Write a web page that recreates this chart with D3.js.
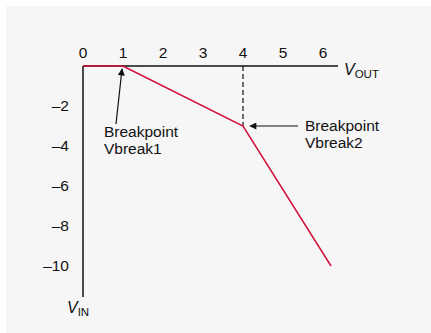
<!DOCTYPE html>
<html>
<head>
<meta charset="utf-8">
<script src="https://cdn.jsdelivr.net/npm/d3@7"></script>
<style>
  body { margin: 0; background: #fff; }
  svg { display: block; font-family: "Liberation Sans", Arial, sans-serif; }
</style>
</head>
<body>
<div id="chart"></div>
<script>
// transfer curve data
const vout = [0, 1, 4, 6.2];
const vin = [0, 0, -3, -10];
const xTicks = [0, 1, 2, 3, 4, 5, 6];
const yTicks = [-2, -4, -6, -8, -10];
const breakpoints = [
  {x: 1, y: 0, lines: ["Breakpoint", "Vbreak1"]},
  {x: 4, y: -3, lines: ["Breakpoint", "Vbreak2"]}
];

const width = 431, height = 333;
const red = "#d0103a";
const fontSize = 15.5;

const svg = d3.select("#chart").append("svg")
  .attr("width", width)
  .attr("height", height);

svg.append("rect")
  .attr("x", 6).attr("y", 6)
  .attr("width", width - 6).attr("height", height - 6)
  .attr("fill", "#f6f6f6");

const x = d3.scaleLinear().domain([0, 6]).range([83, 323]);
const y = d3.scaleLinear().domain([0, -10]).range([66, 266]);

let defs = svg.append("defs");
defs.append("marker")
  .attr("id", "arrow")
  .attr("viewBox", "0 0 10 10")
  .attr("refX", 9).attr("refY", 5)
  .attr("markerWidth", 9).attr("markerHeight", 7)
  .attr("markerUnits", "userSpaceOnUse")
  .attr("orient", "auto")
  .append("path")
  .attr("d", "M0,0 L10,5 L0,10 Z")
  .attr("fill", "#111");

// axes
svg.append("line")
  .attr("x1", x(0)).attr("x2", 338)
  .attr("y1", y(0)).attr("y2", y(0))
  .attr("stroke", "#111").attr("stroke-width", 1.5);

svg.append("line")
  .attr("x1", x(0)).attr("x2", x(0))
  .attr("y1", y(0)).attr("y2", y(-11.55))
  .attr("stroke", "#111").attr("stroke-width", 1.5);

svg.append("g")
  .selectAll("text")
  .data(xTicks)
  .enter()
  .append("text")
  .attr("x", d => x(d))
  .attr("y", y(0) - 8)
  .attr("text-anchor", "middle")
  .attr("font-size", fontSize)
  .attr("fill", "#111")
  .text(d => d);

svg.append("g")
  .selectAll("text")
  .data(yTicks)
  .enter()
  .append("text")
  .attr("x", 69)
  .attr("y", d => y(d) + 5)
  .attr("text-anchor", "end")
  .attr("font-size", fontSize)
  .attr("fill", "#111")
  .text(d => "\u2013" + Math.abs(d));

// axis titles
let voutLabel = svg.append("text")
  .attr("x", 344).attr("y", 75)
  .attr("font-size", 16)
  .attr("fill", "#111");
voutLabel.append("tspan").attr("font-style", "italic").text("V");
voutLabel.append("tspan").attr("font-size", 11.5).attr("dy", 3).text("OUT");

let vinLabel = svg.append("text")
  .attr("x", 67).attr("y", 313)
  .attr("font-size", 16)
  .attr("fill", "#111");
vinLabel.append("tspan").attr("font-style", "italic").text("V");
vinLabel.append("tspan").attr("font-size", 11.5).attr("dy", 3).text("IN");

// dashed guide at second breakpoint
svg.append("line")
  .attr("x1", x(4)).attr("x2", x(4))
  .attr("y1", y(0)).attr("y2", y(-3))
  .attr("stroke", "#111").attr("stroke-width", 1.2)
  .attr("stroke-dasharray", "5,3");

// transfer curve
const points = vout.map((v, i) => [v, vin[i]]);
svg.append("path")
  .datum(points)
  .attr("fill", "none")
  .attr("stroke", red)
  .attr("stroke-width", 1.5)
  .attr("d", d3.line().x(d => x(d[0])).y(d => y(d[1])));

// annotations
let b1 = breakpoints[0];
svg.append("line")
  .attr("x1", 116).attr("y1", 124)
  .attr("x2", x(b1.x) - 1).attr("y2", y(b1.y) + 3)
  .attr("stroke", "#111").attr("stroke-width", 1.2)
  .attr("marker-end", "url(#arrow)");

let t1 = svg.append("text")
  .attr("x", 104).attr("y", 137)
  .attr("font-size", fontSize)
  .attr("fill", "#111");
b1.lines.forEach((line, i) => {
  t1.append("tspan").attr("x", 104).attr("dy", i === 0 ? 0 : 17).text(line);
});

let b2 = breakpoints[1];
svg.append("line")
  .attr("x1", 298).attr("y1", y(b2.y))
  .attr("x2", x(b2.x) + 7).attr("y2", y(b2.y))
  .attr("stroke", "#111").attr("stroke-width", 1.2)
  .attr("marker-end", "url(#arrow)");

let t2 = svg.append("text")
  .attr("x", 305).attr("y", 131)
  .attr("font-size", fontSize)
  .attr("fill", "#111");
b2.lines.forEach((line, i) => {
  t2.append("tspan").attr("x", 305).attr("dy", i === 0 ? 0 : 17).text(line);
});
</script>
</body>
</html>
